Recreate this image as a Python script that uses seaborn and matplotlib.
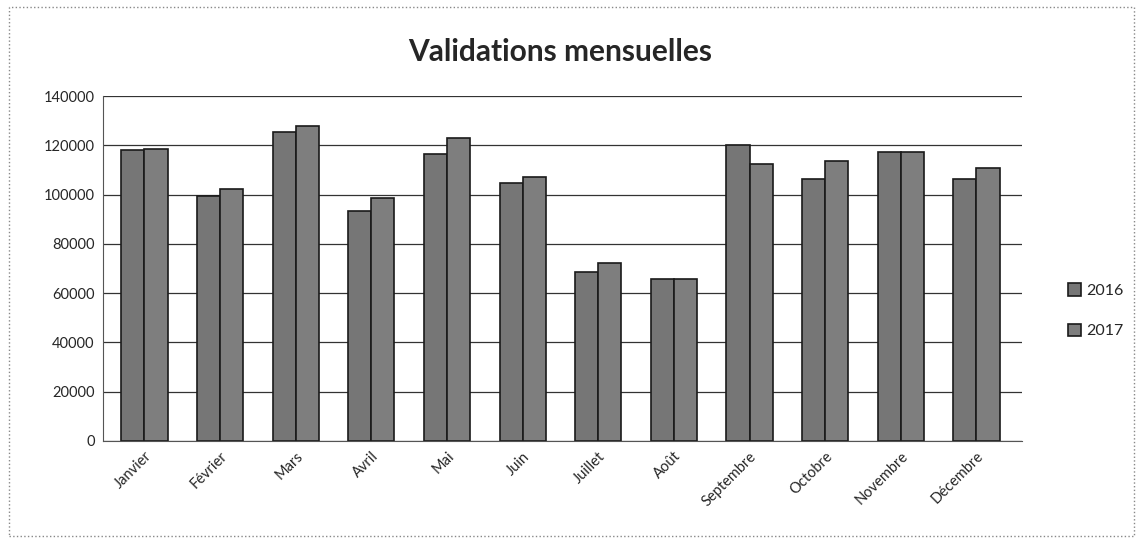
import pandas as pd
import seaborn as sns
import matplotlib.pyplot as plt
from matplotlib.patches import Rectangle

# monthly validations
mois = ['Janvier', 'Février', 'Mars', 'Avril', 'Mai', 'Juin',
        'Juillet', 'Août', 'Septembre', 'Octobre', 'Novembre', 'Décembre']
val_2016 = [118000, 99400, 125400, 93400, 116400, 104900,
            68400, 65700, 120300, 106500, 117500, 106500]
val_2017 = [118700, 102200, 127700, 98800, 122800, 107200,
            72400, 65900, 112400, 113500, 117500, 110800]
annees = ['2016', '2017']

data = pd.DataFrame({
    'Mois': mois * 2,
    'Annee': [annees[0]] * 12 + [annees[1]] * 12,
    'Validations': val_2016 + val_2017,
})

sns.set_style('white')
plt.rcParams['font.family'] = ['Lato', 'DejaVu Sans']

fig = plt.figure(figsize=(11.43, 5.43), dpi=100)
ax = fig.add_axes([0.090, 0.188, 0.804, 0.635])

sns.barplot(data=data, x='Mois', y='Validations', hue='Annee',
            palette=['#767676', '#7e7e7e'], width=0.61, gap=0,
            edgecolor='#1a1a1a', linewidth=1.2, ax=ax)

ax.set_ylim(0, 140000)
ax.set_yticks(range(0, 140001, 20000))
ax.set_xlim(-0.55, 11.6)
ax.yaxis.grid(True, color='#333333', linewidth=0.9)
ax.set_axisbelow(True)
for s in ['top', 'right']:
    ax.spines[s].set_visible(False)
ax.spines['left'].set_color('#555555')
ax.spines['bottom'].set_color('#555555')
ax.set_xlabel('')
ax.set_ylabel('')
plt.setp(ax.get_xticklabels(), rotation=45, ha='right', rotation_mode='anchor', fontsize=10.5)
plt.setp(ax.get_yticklabels(), fontsize=10.5)
ax.tick_params(axis='both', length=0, pad=6)

fig.text(0.49, 0.905, 'Validations mensuelles', ha='center', va='center',
         fontsize=21.5, fontweight='bold')

ax.legend(title=None, frameon=False, loc='center left', bbox_to_anchor=(1.035, 0.377),
          fontsize=11.5, handlelength=0.8, handleheight=0.8, handletextpad=0.3,
          labelspacing=1.6)

fig.patches.append(Rectangle((0.008, 0.012), 0.984, 0.975, transform=fig.transFigure,
                             fill=False, edgecolor='#888888', linestyle=':', linewidth=1))

plt.savefig('out.png', dpi=100)
